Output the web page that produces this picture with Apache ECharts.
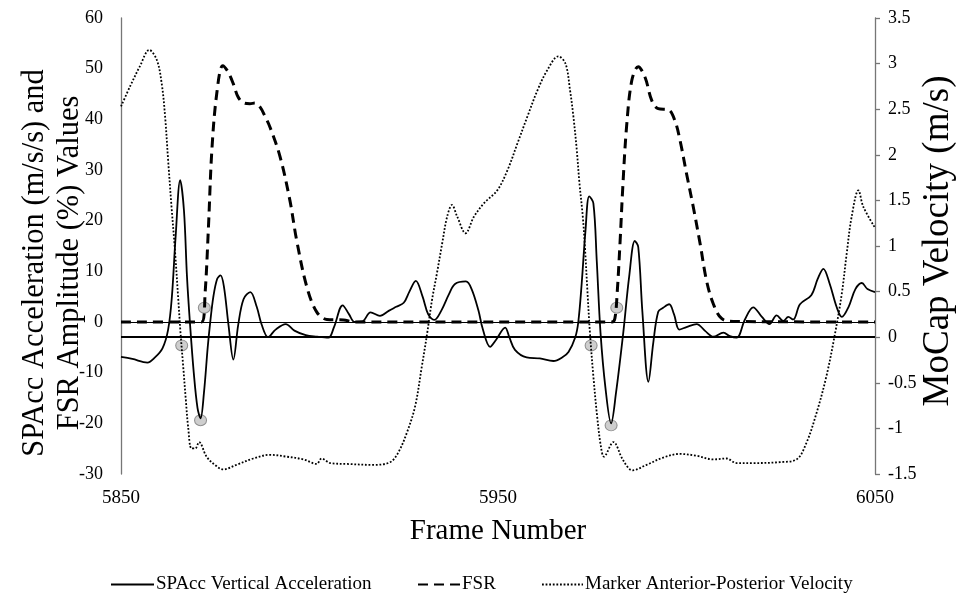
<!DOCTYPE html>
<html>
<head>
<meta charset="utf-8">
<script src="https://cdn.jsdelivr.net/npm/echarts@6/dist/echarts.min.js"></script>
<style>
html,body{margin:0;padding:0;background:#fff;}
#chart{width:959px;height:594px;}
</style>
</head>
<body>
<div id="chart"></div>
<script>
// ---- data ----
const xTicks = [5850, 5950, 6050];

const accFrames = [5850,5853,5857,5859,5861,5862.5,5863.5,5864.5,5865.7,5866.7,5867.5,5868.3,5869.3,5870.3,5871.1,5872,5873,5873.6,5874.5,5875.5,5876.4,5877.3,5878.5,5879.8,5881.1,5882.5,5884.3,5886,5887.3,5889,5891,5893.7,5896,5899,5902,5905,5906.5,5908.8,5910.5,5912,5914,5916.2,5918.7,5921,5923,5925,5926.5,5928.2,5930,5931.5,5933.1,5935,5937,5938.6,5941.5,5943,5944.8,5946,5947.9,5949.5,5951.9,5953,5954.5,5957.6,5961.1,5964.7,5967,5968.7,5970.5,5971.3,5972.2,5973.2,5974.2,5975.3,5976.2,5977.2,5978.5,5980,5981.3,5983.2,5984.8,5986.3,5987.2,5988.3,5989.9,5991.2,5992.5,5993.8,5995.4,5996.7,5998.1,6000,6002.7,6005,6007.1,6009.8,6011.5,6013.3,6015.5,6017.7,6020,6022,6023.9,6025.7,6027,6028.3,6030.1,6033.1,6034.8,6036.3,6038,6039.8,6041.2,6043,6044.8,6046.5,6048,6050];
const accValues = [-6.9,-7.3,-8.0,-7.0,-5.2,-1.5,5,17,28,22,9,-0.3,-10,-17,-19,-14,-5,-0.5,5,8.5,9.2,7,-0.5,-7.4,-0.5,4.5,5.9,3,-0.5,-3,-1.5,-0.4,-1.7,-2.6,-2.9,-3.1,-1,3.3,1.5,0,0.1,1.9,1.2,2.2,3.0,3.8,6,8.1,5,1.5,0.4,2.3,5.5,7.5,8.0,6.5,2.3,-1.5,-4.9,-3.5,-1.1,-3,-5.5,-7.0,-7.2,-7.7,-7,-5.9,-3,0,7.6,18,24.8,23.4,12,-2.2,-13,-20,-14,-2.3,9,16,14.8,2,-11.8,-4,2.0,2.8,3.5,1.5,-1.5,-1.0,-0.4,-1.8,-2.9,-2.1,-2.8,-3.1,0.5,2.9,1.0,-0.4,1.3,0.2,1.0,0.5,3.5,5.3,8.5,10.5,7.5,3,1.0,3,6.5,7.7,6.5,5.9];

const fsrFrames = [5850,5871.4,5872.3,5873.2,5874.1,5875.4,5877,5878.3,5879.8,5881,5882.4,5884.2,5885.5,5886.9,5888.2,5889.5,5892.2,5894.8,5896.6,5899.3,5901.9,5904.6,5909,5912,5980.2,5981,5981.6,5982.4,5983.1,5984.1,5985.5,5987.2,5989,5990.8,5992.5,5995.2,5996.9,5998.3,6000,6001.8,6003.6,6005.3,6007.1,6009.3,6012.4,6050];
const fsrValues = [0,0,5.6,18.8,33.9,45.1,50.6,49.5,47.0,44.5,43.3,43.1,43.2,42.4,40.6,38.5,32.6,24.0,16.1,6.9,2.0,0.5,0.4,0,0,0.7,5.6,16.1,26.6,38.5,47.7,50.4,48.3,43.7,42.1,41.9,39.8,35.8,29.3,22.7,15.5,8.2,3.6,0.7,0.1,0];

const velFrames = [5850,5852.4,5855,5857.5,5859.5,5860.8,5861.7,5862.5,5863.4,5864.3,5865.2,5865.8,5866.5,5867.2,5867.8,5868.7,5869.7,5870.7,5872.7,5874.9,5877.1,5880.6,5885.1,5889.5,5893.9,5898.4,5901.9,5903.2,5905.5,5910,5916.9,5921.4,5923.6,5925.8,5928,5929.8,5931.2,5932.5,5933.8,5935.2,5936.5,5937.8,5939.2,5941.4,5943.6,5946.3,5949.8,5952.5,5955.2,5957.8,5960.5,5963.1,5966,5967.9,5969.1,5970,5970.9,5971.6,5972.5,5973.1,5973.7,5974.4,5975.3,5976.3,5977.3,5978.1,5980.6,5983.2,5985.7,5989.4,5993.8,5998.3,6002.7,6007.1,6010.6,6013.3,6017.7,6024.8,6029.2,6031.8,6034.5,6037.1,6039.4,6041.2,6042.5,6043.8,6045.6,6046.9,6050];
const velValues = [2.53,2.75,2.97,3.15,3.04,2.78,2.42,1.94,1.43,0.96,0.41,0.04,-0.32,-0.69,-0.98,-1.22,-1.22,-1.15,-1.31,-1.40,-1.45,-1.40,-1.33,-1.29,-1.31,-1.34,-1.39,-1.33,-1.38,-1.39,-1.40,-1.37,-1.26,-1.05,-0.76,-0.32,0.04,0.41,0.70,1.03,1.32,1.45,1.32,1.14,1.32,1.47,1.61,1.83,2.13,2.42,2.71,2.93,3.08,3.00,2.71,2.42,2.05,1.69,1.32,0.96,0.52,0.04,-0.43,-0.87,-1.20,-1.31,-1.15,-1.35,-1.46,-1.40,-1.32,-1.28,-1.30,-1.34,-1.33,-1.38,-1.38,-1.37,-1.34,-1.16,-0.83,-0.43,0.04,0.48,0.92,1.32,1.61,1.43,1.2];

// event markers (grey circles)
const markLeftFrames = [5871.1, 5872.1, 5980.0, 5981.5];
const markLeftValues = [-19.4, 2.8, -20.4, 2.8];
const markRightFrames = [5866.1, 5974.7];
const markRightValues = [-0.09, -0.09];

const seriesNames = ['SPAcc Vertical Acceleration', 'FSR', 'Marker Anterior-Posterior Velocity'];

// ---- build ----
const zip = (a, b) => a.map((v, i) => [v, b[i]]);
const FONT = '"Liberation Serif", "Times New Roman", serif';
const axisGrey = '#767676';

const chart = echarts.init(document.getElementById('chart'), null, {renderer: 'canvas'});

const markerStyle = {color: '#c2c2c2', borderColor: '#7a7a7a', borderWidth: 1};
const legendText = {fontFamily: FONT, fontSize: 19, color: '#000', padding: [0, 0, 0, -3]};

const option = {
  backgroundColor: '#fff',
  animation: false,
  grid: {left: 121, right: 84, top: 18, bottom: 120, containLabel: false, outerBoundsMode: 'none'},
  xAxis: {
    type: 'value', min: xTicks[0], max: xTicks[xTicks.length - 1], interval: xTicks[1] - xTicks[0],
    axisLine: {show: false}, axisTick: {show: false}, splitLine: {show: false},
    axisLabel: {fontFamily: FONT, fontSize: 19, color: '#000', margin: 15,
                formatter: v => String(v)}
  },
  yAxis: [
    {
      type: 'value', min: -30, max: 60, interval: 10, position: 'left',
      axisLine: {show: true, lineStyle: {color: axisGrey, width: 1.3}},
      axisTick: {show: false}, splitLine: {show: false},
      axisLabel: {fontFamily: FONT, fontSize: 18, color: '#000', margin: 18}
    },
    {
      type: 'value', min: -1.5, max: 3.5, interval: 0.5, position: 'right',
      axisLine: {show: true, lineStyle: {color: axisGrey, width: 1.3}},
      axisTick: {show: true, inside: false, length: 5, lineStyle: {color: axisGrey, width: 1.3}},
      splitLine: {show: false},
      axisLabel: {fontFamily: FONT, fontSize: 18, color: '#000', margin: 13}
    }
  ],
  legend: [
    {data: [seriesNames[0]], left: 105, top: 570, itemWidth: 43, itemHeight: 14, itemGap: 0,
     itemStyle: {opacity: 0}, textStyle: legendText},
    {data: [seriesNames[1]], left: 412, top: 570, itemWidth: 42, itemHeight: 14, itemGap: 0,
     itemStyle: {opacity: 0}, textStyle: legendText},
    {data: [seriesNames[2]], left: 536, top: 570, itemWidth: 41, itemHeight: 14, itemGap: 0,
     itemStyle: {opacity: 0}, textStyle: legendText}
  ],
  graphic: [
    {type: 'text', x: 52, y: 263, rotation: Math.PI / 2,
     style: {text: 'SPAcc Acceleration (m/s/s) and\nFSR Amplitude (%) Values', font: '30.5px ' + FONT,
             textAlign: 'center', textVerticalAlign: 'middle', lineHeight: 35, fill: '#000'}},
    {type: 'text', x: 938, y: 241, rotation: Math.PI / 2,
     style: {text: 'MoCap Velocity (m/s)', font: '37px ' + FONT,
             textAlign: 'center', textVerticalAlign: 'middle', fill: '#000'}},
    {type: 'text', x: 498, y: 531,
     style: {text: 'Frame Number', font: '29px ' + FONT,
             textAlign: 'center', textVerticalAlign: 'middle', fill: '#000'}}
  ],
  series: [
    {
      name: 'markersLeft', type: 'scatter', yAxisIndex: 0, z: 1, silent: true,
      symbol: 'circle', symbolSize: [12, 11], itemStyle: markerStyle,
      data: zip(markLeftFrames, markLeftValues)
    },
    {
      name: 'markersRight', type: 'scatter', yAxisIndex: 1, z: 1, silent: true,
      symbol: 'circle', symbolSize: [12, 11], itemStyle: markerStyle,
      data: zip(markRightFrames, markRightValues)
    },
    {
      name: seriesNames[2], type: 'line', yAxisIndex: 1, z: 2,
      showSymbol: false, symbol: 'none', smooth: 0.35,
      lineStyle: {color: '#000', width: 1.8, type: [1.8, 1.8]},
      itemStyle: {color: '#000'},
      data: zip(velFrames, velValues),
      markLine: {silent: true, symbol: 'none', label: {show: false},
                 lineStyle: {color: '#000', width: 2.2, type: 'solid'},
                 data: [{yAxis: 0}]}
    },
    {
      name: seriesNames[1], type: 'line', yAxisIndex: 0, z: 3,
      showSymbol: false, symbol: 'none', smooth: 0.35,
      lineStyle: {color: '#000', width: 3, type: [10, 6]},
      itemStyle: {color: '#000'},
      data: zip(fsrFrames, fsrValues)
    },
    {
      name: seriesNames[0], type: 'line', yAxisIndex: 0, z: 4,
      showSymbol: false, symbol: 'none', smooth: 0.35,
      lineStyle: {color: '#000', width: 1.8, type: 'solid'},
      itemStyle: {color: '#000'},
      data: zip(accFrames, accValues),
      markLine: {silent: true, symbol: 'none', label: {show: false},
                 lineStyle: {color: '#000', width: 1.2, type: 'solid'},
                 data: [{yAxis: 0}]}
    }
  ]
};
chart.setOption(option);
</script>
</body>
</html>
